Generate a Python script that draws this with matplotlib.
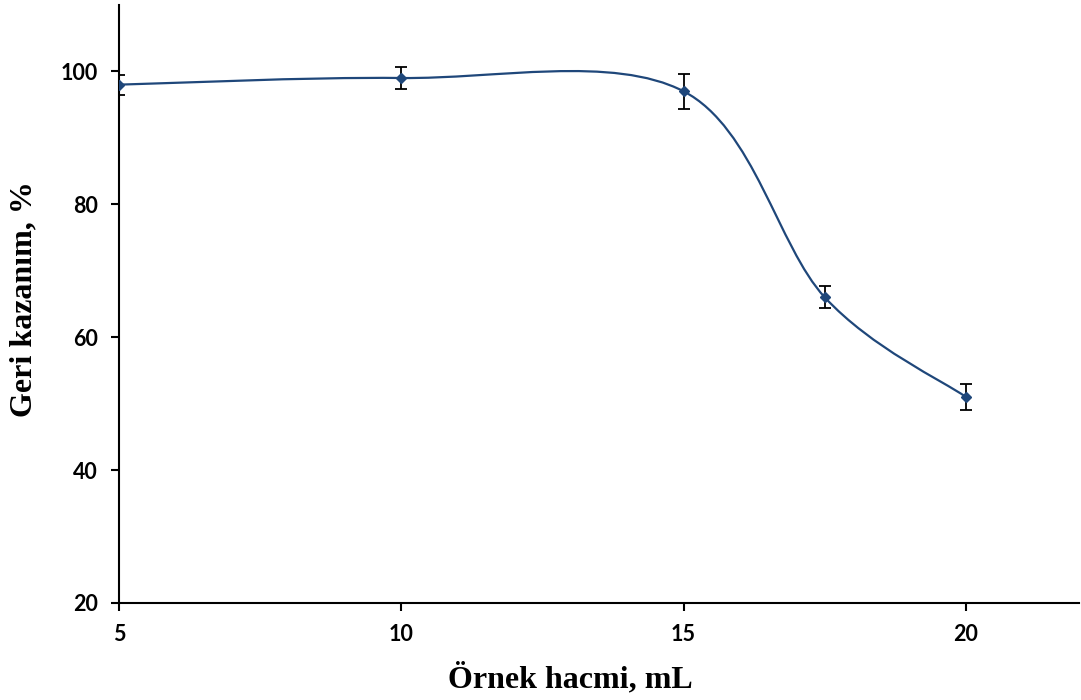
import numpy as np
import matplotlib
matplotlib.use("Agg")
import matplotlib.pyplot as plt
from matplotlib.path import Path
from matplotlib.patches import PathPatch

# Sample volume (mL) vs. recovery (%) with standard deviations
volume = [5, 10, 15, 17.5, 20]
recovery = [98, 99, 97, 66, 51]
recovery_err = [1.5, 1.7, 2.6, 1.65, 2.0]

x_ticks = [5, 10, 15, 20]
y_ticks = [20, 40, 60, 80, 100]

line_color = "#1F477A"


def smooth_path(xs, ys):
    """Cubic Bezier spline through the points (Catmull-Rom style control points)."""
    pts = np.column_stack([xs, ys]).astype(float)
    n = len(pts)
    verts = [pts[0]]
    codes = [Path.MOVETO]
    for i in range(n - 1):
        p0 = pts[i - 1] if i > 0 else pts[i]
        p1 = pts[i]
        p2 = pts[i + 1]
        p3 = pts[i + 2] if i + 2 < n else pts[i + 1]
        c1 = p1 + (p2 - p0) / 6.0
        c2 = p2 - (p3 - p1) / 6.0
        verts += [c1, c2, p2]
        codes += [Path.CURVE4] * 3
    return Path(verts, codes)


fig = plt.figure(figsize=(10.81, 7.00), dpi=100)
ax = fig.add_axes([0.110, 0.1386, 0.888, 0.8544])

ax.add_patch(PathPatch(smooth_path(volume, recovery), facecolor="none",
                       edgecolor=line_color, linewidth=1.6, zorder=3))
ax.errorbar(volume, recovery, yerr=recovery_err, fmt="none", ecolor="black",
            elinewidth=1.3, capsize=4.5, capthick=1.3, zorder=2)
ax.plot(volume, recovery, linestyle="none", marker="D", markersize=5.5,
        color=line_color, zorder=4)

ax.set_xlim(5, 22)
ax.set_ylim(20, 110)
ax.set_xticks(x_ticks)
ax.set_yticks(y_ticks)

for side in ("top", "right"):
    ax.spines[side].set_visible(False)
for side in ("left", "bottom"):
    ax.spines[side].set_linewidth(1.5)
    ax.spines[side].set_color("black")

ax.tick_params(axis="both", direction="out", length=6, width=1.5,
               color="black", pad=9)
for lab in ax.get_xticklabels() + ax.get_yticklabels():
    lab.set_fontfamily("Lato")
    lab.set_fontweight("bold")
    lab.set_fontsize(15.5)

ax.set_xlabel("Örnek hacmi, mL", fontfamily="Liberation Serif",
              fontweight="bold", fontsize=23)
ax.xaxis.label.set_verticalalignment("baseline")
ax.xaxis.set_label_coords(0.47, -0.1405)

ax.set_ylabel("Geri kazanım, %", fontfamily="Liberation Serif",
              fontweight="bold", fontsize=23)
ax.yaxis.label.set_verticalalignment("center")
ax.yaxis.label.set_horizontalalignment("center")
ax.yaxis.set_label_coords(-0.099, 0.508)

fig.savefig("out.png", dpi=100)
